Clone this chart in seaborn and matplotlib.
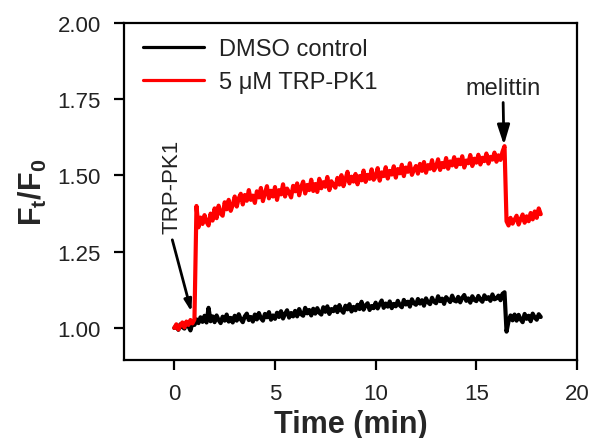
import numpy as np
import pandas as pd
import matplotlib
matplotlib.use("Agg")
import matplotlib.pyplot as plt
import seaborn as sns

# Ft/F0 traces, sampled every 0.1 min from 0 to 18.2 min (one row = 1 min)
dmso = [
    1.000, 1.008, 0.994, 1.012, 1.003, 0.998, 1.015, 1.006, 0.992, 1.016,
    1.010, 1.028, 1.016, 1.035, 1.020, 1.040, 1.018, 1.066, 1.022, 1.038,
    1.019, 1.041, 1.026, 1.016, 1.037, 1.024, 1.044, 1.021, 1.033, 1.018,
    1.040, 1.024, 1.045, 1.028, 1.019, 1.038, 1.047, 1.026, 1.036, 1.021,
    1.044, 1.028, 1.049, 1.032, 1.024, 1.046, 1.035, 1.052, 1.027, 1.041,
    1.030, 1.050, 1.036, 1.055, 1.031, 1.046, 1.058, 1.034, 1.049, 1.038,
    1.056, 1.038, 1.062, 1.045, 1.040, 1.066, 1.048, 1.059, 1.041, 1.063,
    1.047, 1.065, 1.050, 1.044, 1.068, 1.053, 1.071, 1.046, 1.062, 1.055,
    1.070, 1.052, 1.075, 1.058, 1.050, 1.073, 1.061, 1.078, 1.054, 1.069,
    1.058, 1.076, 1.062, 1.086, 1.060, 1.074, 1.081, 1.059, 1.072, 1.065,
    1.083, 1.064, 1.078, 1.090, 1.066, 1.080, 1.070, 1.087, 1.065, 1.079,
    1.071, 1.089, 1.074, 1.068, 1.092, 1.077, 1.086, 1.070, 1.094, 1.081,
    1.076, 1.095, 1.080, 1.091, 1.073, 1.097, 1.084, 1.078, 1.099, 1.086,
    1.081, 1.104, 1.088, 1.096, 1.079, 1.101, 1.093, 1.085, 1.106, 1.090,
    1.087, 1.102, 1.084, 1.099, 1.108, 1.089, 1.097, 1.083, 1.104, 1.092,
    1.088, 1.105, 1.093, 1.086, 1.107, 1.095, 1.101, 1.089, 1.110, 1.094,
    1.097, 1.106, 1.091, 1.112, 1.117, 0.988, 1.022, 1.041, 1.025, 1.044,
    1.024, 1.043, 1.028, 1.019, 1.046, 1.030, 1.040, 1.022, 1.047, 1.034,
    1.027, 1.045, 1.036,
]

trp_pk1 = [
    1.000, 1.012, 0.995, 1.008, 1.018, 1.002, 1.021, 1.010, 1.026, 1.015,
    1.028, 1.400, 1.330, 1.362, 1.341, 1.370, 1.348, 1.336, 1.375, 1.352,
    1.392, 1.360, 1.401, 1.375, 1.368, 1.412, 1.389, 1.420, 1.384, 1.403,
    1.431, 1.398, 1.425, 1.440, 1.405, 1.436, 1.417, 1.452, 1.420, 1.434,
    1.410, 1.448, 1.428, 1.459, 1.416, 1.442, 1.465, 1.425, 1.450, 1.431,
    1.462, 1.420, 1.452, 1.438, 1.471, 1.431, 1.457, 1.444, 1.428, 1.466,
    1.448, 1.474, 1.435, 1.462, 1.480, 1.441, 1.469, 1.452, 1.486, 1.449,
    1.472, 1.446, 1.489, 1.458, 1.478, 1.463, 1.495, 1.452, 1.481, 1.468,
    1.460, 1.492, 1.470, 1.501, 1.465, 1.487, 1.512, 1.474, 1.496, 1.480,
    1.505, 1.471, 1.498, 1.484, 1.516, 1.479, 1.502, 1.489, 1.520, 1.486,
    1.496, 1.524, 1.483, 1.510, 1.498, 1.527, 1.490, 1.515, 1.503, 1.530,
    1.493, 1.521, 1.507, 1.535, 1.498, 1.526, 1.512, 1.540, 1.502, 1.518,
    1.531, 1.506, 1.538, 1.515, 1.544, 1.509, 1.534, 1.522, 1.550, 1.517,
    1.529, 1.553, 1.518, 1.541, 1.527, 1.557, 1.522, 1.546, 1.533, 1.560,
    1.528, 1.552, 1.537, 1.563, 1.526, 1.549, 1.540, 1.567, 1.531, 1.555,
    1.542, 1.568, 1.536, 1.558, 1.547, 1.572, 1.539, 1.561, 1.552, 1.575,
    1.545, 1.566, 1.551, 1.578, 1.596, 1.350, 1.336, 1.361, 1.342, 1.355,
    1.368, 1.339, 1.357, 1.372, 1.345, 1.366, 1.350, 1.377, 1.356, 1.382,
    1.361, 1.392, 1.373,
]

time_min = np.arange(len(dmso)) * 0.1
labels = ["DMSO control", "5 \u03bcM TRP-PK1"]
colors = ["black", "red"]

df = pd.concat([
    pd.DataFrame({"time": time_min, "ratio": dmso, "condition": labels[0]}),
    pd.DataFrame({"time": time_min, "ratio": trp_pk1, "condition": labels[1]}),
])

sns.set_style("ticks")
plt.rcParams["font.family"] = ["Liberation Sans", "DejaVu Sans"]
plt.rcParams["mathtext.fontset"] = "custom"
plt.rcParams["mathtext.rm"] = "Liberation Sans"
plt.rcParams["mathtext.bf"] = "Liberation Sans:bold"

fig = plt.figure(figsize=(5.91, 4.39), dpi=100)
ax = fig.add_axes([0.2098, 0.1777, 0.7665, 0.7677])

sns.lineplot(data=df, x="time", y="ratio", hue="condition", hue_order=labels,
             palette=dict(zip(labels, colors)), estimator=None, sort=False,
             linewidth=3.0, ax=ax)

ax.set_xlim(-2.5, 20)
ax.set_ylim(0.895, 2.0)
ax.set_xticks([0, 5, 10, 15, 20])
ax.set_yticks([1.00, 1.25, 1.50, 1.75, 2.00])
ax.set_yticklabels(["1.00", "1.25", "1.50", "1.75", "2.00"])

for side in ax.spines.values():
    side.set_linewidth(1.6)
    side.set_color("black")
ax.tick_params(axis="both", length=7.5, width=1.6, labelsize=16, pad=9, color="black",
               labelcolor="#222222")

ax.set_xlabel("Time (min)", fontsize=22, fontweight="bold", labelpad=4)
ax.set_ylabel(r"$\mathbf{F_t/F_0}$", fontsize=22, labelpad=6)

leg = ax.legend(loc="upper left", bbox_to_anchor=(0.042, 0.954), frameon=False,
                fontsize=17, handlelength=2.6, handletextpad=0.6, labelspacing=0.45,
                borderpad=0, borderaxespad=0)
for line in leg.get_lines():
    line.set_linewidth(2.3)
for text in leg.get_texts():
    text.set_color("#222222")

# event annotations
ax.annotate("melittin", xy=(16.37, 1.60), xytext=(16.32, 1.75),
            ha="center", va="bottom", fontsize=17, color="#222222",
            arrowprops=dict(arrowstyle="-|>,head_length=0.7,head_width=0.22",
                            color="black", lw=2, shrinkA=0, shrinkB=0))
ax.text(-0.1, 1.4655, "TRP-PK1", rotation=90, ha="center", va="center",
        fontsize=16, color="#222222")
ax.annotate("", xy=(0.85, 1.053), xytext=(-0.1, 1.289),
            arrowprops=dict(arrowstyle="-|>,head_length=0.7,head_width=0.22",
                            color="black", lw=2, shrinkA=0, shrinkB=0))

fig.savefig("out.png", dpi=100)
